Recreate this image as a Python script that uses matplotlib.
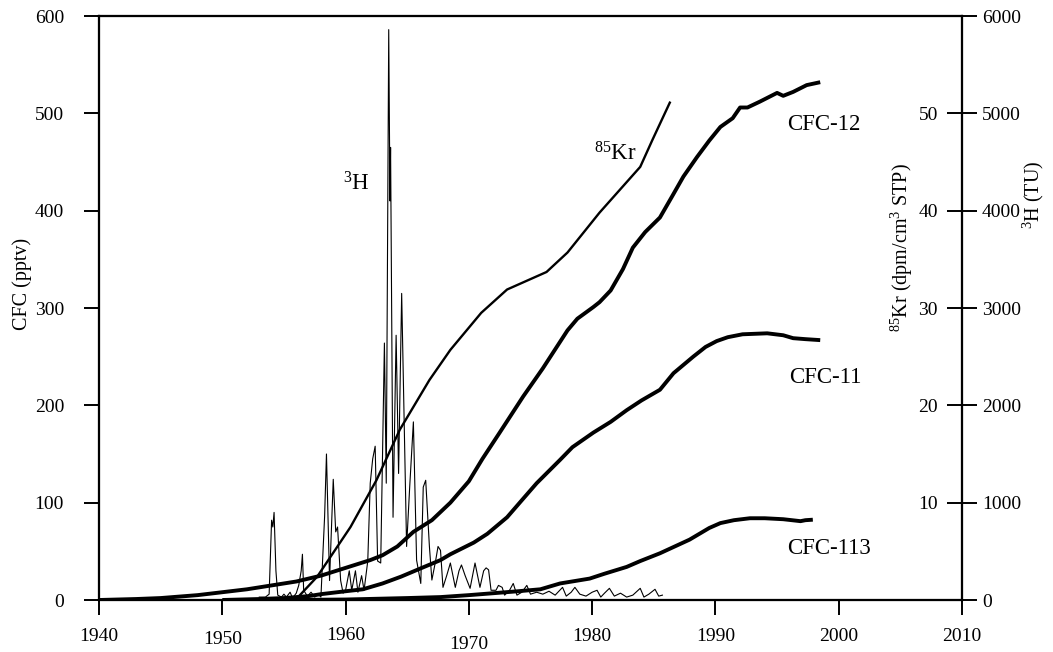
import matplotlib
matplotlib.use("Agg")
import matplotlib.pyplot as plt

plt.rcParams['font.family'] = ['Liberation Serif', 'DejaVu Serif']
plt.rcParams['mathtext.fontset'] = 'custom'
plt.rcParams['mathtext.rm'] = 'Liberation Serif'
plt.rcParams['mathtext.it'] = 'Liberation Serif:italic'
plt.rcParams['mathtext.bf'] = 'Liberation Serif:bold'

# ---------------- data ----------------
cfc12_year = [1940, 1943, 1945, 1948, 1950, 1952, 1954, 1956, 1958, 1960, 1962, 1963,
              1964.2, 1965.5, 1967, 1968.5, 1970, 1971.1, 1972.5, 1974.4, 1976, 1978,
              1978.8, 1980.1, 1980.6, 1981.5, 1982.5, 1983.3, 1984.3, 1985.5, 1986.5,
              1987.4, 1988.5, 1989.5, 1990.4, 1991.4, 1992.0, 1992.6, 1993.6, 1995.0,
              1995.5, 1996.3, 1997.4, 1998.5]
cfc12_val = [0, 1, 2, 5, 8, 11, 15, 19, 25, 33, 41, 46,
             55, 70, 82, 100, 122, 145, 172, 209, 238, 277,
             289, 301, 306, 318, 340, 362, 378, 393, 415,
             435, 455, 472, 486, 495, 506, 506, 512, 521,
             518, 522, 529, 532]

cfc11_year = [1950, 1953, 1955, 1957, 1958, 1960, 1961.4, 1963, 1964.5, 1966, 1967.7,
              1968.5, 1970.4, 1971.5, 1973.1, 1974.4, 1975.5, 1977.4, 1978.4, 1980.1,
              1981.5, 1982.8, 1984, 1985.5, 1986.6, 1988.2, 1989.2, 1990.1, 1991,
              1992.2, 1994.2, 1995.5, 1996.3, 1997.3, 1998.5]
cfc11_val = [0, 1, 2, 4, 6, 9, 11, 17, 24, 32, 41,
             47, 59, 68, 85, 104, 120, 144, 157, 172,
             183, 195, 205, 216, 233, 250, 260, 266, 270,
             273, 274, 272, 269, 268, 267]

cfc113_year = [1955, 1960, 1965, 1967.7, 1970, 1972, 1974, 1975.8, 1977.4, 1979.8,
               1981, 1982.8, 1983.9, 1985.5, 1987.9, 1989.5, 1990.4, 1991.5, 1992.8,
               1994, 1995.5, 1996.9, 1997.3, 1997.9]
cfc113_val = [0, 0.5, 2, 3, 5, 7, 9, 11, 17, 22,
              27, 34, 40, 48, 62, 74, 79, 82, 84,
              84, 83, 81, 82, 82.5]

kr_year = [1956.0, 1957.7, 1960.4, 1962.5, 1964.4, 1966.8, 1968.5, 1971.0, 1973.1,
           1976.3, 1978.0, 1980.6, 1983.9, 1984.9, 1986.3]
kr_val = [0.1, 2.4, 7.5, 12.3, 17.5, 22.6, 25.7, 29.5, 31.9,
          33.7, 35.7, 39.8, 44.5, 47.3, 51.1]

h3_year = [1953.0, 1953.5, 1953.8, 1954.0, 1954.1, 1954.2, 1954.35, 1954.5, 1954.8,
           1955.0, 1955.2, 1955.5, 1955.7, 1956.0, 1956.2, 1956.4, 1956.5, 1956.6,
           1956.9, 1957.2, 1957.5, 1957.8, 1958.0, 1958.3, 1958.45, 1958.7, 1959.0,
           1959.2, 1959.35, 1959.6, 1959.8, 1960.0, 1960.3, 1960.5, 1960.8, 1961.0,
           1961.3, 1961.5, 1961.8, 1962.0, 1962.2, 1962.4, 1962.6, 1962.85, 1963.15,
           1963.3, 1963.5, 1963.6, 1963.65, 1963.85, 1964.1, 1964.3, 1964.55, 1964.95,
           1965.2, 1965.5, 1965.76, 1966.1, 1966.3, 1966.5, 1966.8, 1967.0, 1967.3,
           1967.5, 1967.7, 1967.9, 1968.2, 1968.5, 1968.9, 1969.2, 1969.4, 1969.7,
           1970.1, 1970.5, 1970.9, 1971.2, 1971.4, 1971.6, 1971.8, 1972.2, 1972.4,
           1972.7, 1972.9, 1973.3, 1973.6, 1973.9, 1974.3, 1974.7, 1975.0, 1975.5,
           1976.0, 1976.5, 1977.0, 1977.6, 1977.9, 1978.3, 1978.6, 1979.0, 1979.5,
           1980.0, 1980.4, 1980.7, 1981.0, 1981.4, 1981.8, 1982.3, 1982.8, 1983.3,
           1983.9, 1984.2, 1984.6, 1985.1, 1985.4, 1985.7]
h3_val = [30, 30, 60, 820, 750, 900, 300, 50, 30,
          60, 30, 80, 20, 70, 150, 300, 470, 100,
          40, 80, 30, 60, 30, 860, 1500, 200, 1240,
          700, 750, 200, 70, 100, 300, 100, 300, 80,
          250, 100, 400, 1200, 1450, 1580, 400, 380, 2640,
          1200, 5860, 4100, 4650, 850, 2720, 1300, 3150, 550,
          1160, 1830, 410, 170, 1160, 1230, 550, 205, 400,
          550, 510, 130, 250, 380, 130, 300, 360, 250,
          120, 380, 130, 300, 330, 310, 100, 100, 150,
          130, 50, 100, 170, 50, 80, 150, 60, 80,
          60, 90, 50, 130, 40, 80, 130, 60, 40,
          80, 100, 30, 70, 120, 40, 70, 30, 50,
          120, 30, 60, 110, 40, 50]

x_ticks = [1940, 1950, 1960, 1970, 1980, 1990, 2000, 2010]
cfc_ticks = [0, 100, 200, 300, 400, 500, 600]
kr_ticks = [10, 20, 30, 40, 50]
h3_ticks = [0, 1000, 2000, 3000, 4000, 5000, 6000]

# ---------------- figure ----------------
fig = plt.figure(figsize=(10.53, 6.52), dpi=100)
ax = fig.add_axes([0.09402, 0.07975, 0.81956, 0.8957])
ax_kr = ax.twinx()
ax_h = ax.twinx()

TL = 10.8   # tick length (pt)
TW = 1.4
FS_TICK = 14
FS_LAB = 14.5
FS_ANN = 16.5

ax.plot(cfc12_year, cfc12_val, color='black', lw=2.8, solid_capstyle='butt', zorder=3)
ax.plot(cfc11_year, cfc11_val, color='black', lw=2.8, solid_capstyle='butt', zorder=3)
ax.plot(cfc113_year, cfc113_val, color='black', lw=2.8, solid_capstyle='butt', zorder=3)
ax_kr.plot(kr_year, kr_val, color='black', lw=1.7, zorder=3)
ax_h.plot(h3_year, h3_val, color='black', lw=0.8, zorder=2)

ax.set_xlim(1940, 2010)
ax.set_ylim(0, 600)
ax_kr.set_ylim(0, 60)
ax_h.set_ylim(0, 6000)

ax.set_xticks(x_ticks)
ax.set_xticklabels([str(t) for t in x_ticks])
ax.set_yticks(cfc_ticks)
ax_kr.set_yticks(kr_ticks)
ax_h.set_yticks(h3_ticks)

for a in (ax, ax_kr, ax_h):
    for s in a.spines.values():
        s.set_linewidth(1.5)
        s.set_color('black')

ax.tick_params(axis='x', direction='out', length=TL, width=TW, pad=9.5, labelsize=FS_TICK)
ax.tick_params(axis='y', direction='out', length=TL, width=TW, pad=14.4, labelsize=FS_TICK)
ax_kr.tick_params(axis='y', direction='in', length=TL, width=TW, pad=-17.3,
                  labelsize=FS_TICK)
for t in ax_kr.yaxis.get_major_ticks():
    t.label2.set_horizontalalignment('right')
ax_h.tick_params(axis='y', direction='out', length=TL, width=TW, pad=3.6, labelsize=FS_TICK)

# staggered x tick labels
extra = {1950: 2.2, 1960: -0.7, 1970: 5.5}
for t, val in zip(ax.xaxis.get_major_ticks(), x_ticks):
    t.set_pad(9.5 + extra.get(val, 0))

ax.set_ylabel('CFC (pptv)', fontsize=FS_LAB)
ax.yaxis.set_label_coords(-0.0892, 0.541)
ax.yaxis.label.set_verticalalignment('center')

ax_kr.set_ylabel(r'$^{85}$Kr (dpm/cm$^{3}$ STP)', fontsize=FS_LAB)
ax_kr.yaxis.set_label_coords(0.9305, 0.603)
ax_kr.yaxis.label.set_verticalalignment('center')
ax_kr.yaxis.label.set_rotation(90)

ax_h.set_ylabel(r'$^{3}$H (TU)', fontsize=FS_LAB)
ax_h.yaxis.set_label_coords(1.0823, 0.6935)
ax_h.yaxis.label.set_verticalalignment('center')
ax_h.yaxis.label.set_rotation(90)

# curve labels
ax.text(1960.85, 428, r'$^{3}$H', fontsize=FS_ANN, ha='center', va='center')
ax.text(1981.85, 458, r'$^{85}$Kr', fontsize=FS_ANN, ha='center', va='center')
ax.text(1995.8, 489, 'CFC-12', fontsize=FS_ANN, ha='left', va='center')
ax.text(1996.0, 229, 'CFC-11', fontsize=FS_ANN, ha='left', va='center')
ax.text(1995.8, 53.4, 'CFC-113', fontsize=FS_ANN, ha='left', va='center')

fig.savefig('out.png', dpi=100)
